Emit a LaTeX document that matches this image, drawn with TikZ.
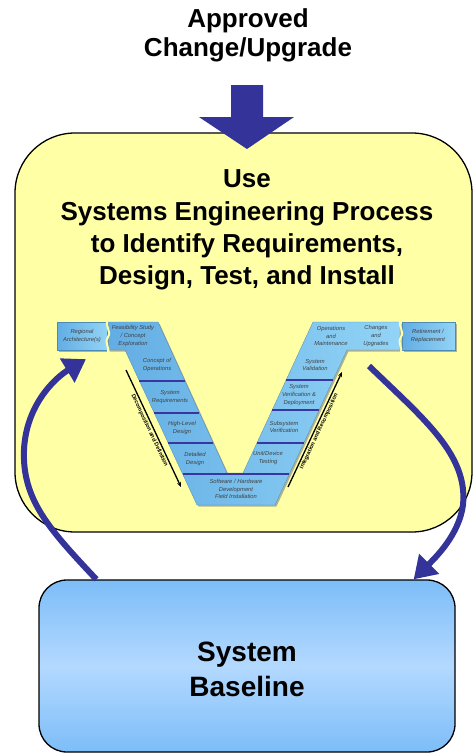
\documentclass[tikz,border=0pt]{standalone}
\usepackage{fontspec}
\setmainfont{Liberation Sans}
\usetikzlibrary{arrows.meta,shadows}
\definecolor{loopblue}{HTML}{333399}
\definecolor{paleyellow}{HTML}{FFFFA6}
\definecolor{baseblue}{HTML}{7DBDF8}
\definecolor{baselight}{HTML}{B3D9FF}
\definecolor{vdark}{HTML}{62ADE4}
\definecolor{vlight}{HTML}{92D4F6}
\definecolor{vline}{HTML}{3A35A0}
\tikzset{
  bigtext/.style={font=\fontsize{26}{32.3}\selectfont\bfseries, align=center, inner sep=0pt},
  vlabel/.style={font=\fontsize{5.8}{7.6}\selectfont\itshape, align=center, text=black!75, inner sep=0pt},
  vblock/.style={left color=vdark, right color=vlight, draw=vdark!80!black, line width=.3pt,
    drop shadow={shadow xshift=1.5pt, shadow yshift=-1.5pt, opacity=.6}},
  divider/.style={draw=vline, line width=1.1pt},
  diag/.style={draw=black, line width=1.3pt, -{Stealth[length=5pt,width=4pt]}},
  diaglabel/.style={font=\fontsize{5.6}{6}\selectfont\bfseries, inner sep=1.2pt},
  loop/.style={draw=loopblue, line width=6pt, -{Triangle[length=22pt,width=27pt]}},
}
\begin{document}
\begin{tikzpicture}[x=1pt,y=-1pt]
	\useasboundingbox (0,0) rectangle (474,753);
	% the two big boxes
	\node[draw, line width=1.3pt, rounded corners=60pt, fill=paleyellow,
		minimum width=457pt, minimum height=399pt] (process) at (243.5,332.5) {};
	\node[draw, line width=1.3pt, rounded corners=28pt, top color=baseblue, bottom color=baseblue,
		middle color=baselight, minimum width=416pt, minimum height=172pt] (baseline) at (247,666) {};
	\node[bigtext, font=\fontsize{26}{29}\selectfont\bfseries] (change) at (248,35) {Approved\\Change/Upgrade};
	\node[bigtext] (use) at (247,230) {Use\\Systems Engineering Process\\to Identify Requirements,\\Design, Test, and Install};
	\node[bigtext, font=\fontsize{28}{35}\selectfont\bfseries] (basetext) at (247,669.5) {System\\Baseline};
	% block arrow into the process box
	\fill[loopblue] (231,85) -- (263,85) -- (263,117) -- (294,117) -- (247,149) -- (199,117) -- (231,117) -- cycle;
	% the V
	\path[vblock] (108,322) -- (158,322) -- (227,473) -- (243,473) -- (313,322) -- (400,322) -- (400,350)
		-- (347,350) -- (275,505) -- (197,505) -- (125,350) -- (108,350) -- cycle;
	\node[vblock, minimum width=50pt, minimum height=28pt] (regional) at (82,336) {};
	\node[vblock, minimum width=53pt, minimum height=28pt] (retire) at (428.5,336) {};
	% torn joins
	\draw[paleyellow, line width=2pt] (108,319) .. controls (104,326) and (112,331) .. (108,337) .. controls (104,343) and (110,348) .. (108,353);
	\draw[paleyellow, line width=2pt] (401,319) .. controls (397,326) and (405,331) .. (401,337) .. controls (397,343) and (403,348) .. (401,353);
	\foreach \y/\a/\b in {381/139.4/184.7, 413/154.3/199.3, 443/168.2/213.3, 380/286.1/333, 410/272.2/319.1, 443/256.9/303.8, 474/182.6/289.4}
		\draw[divider] (\a,\y) -- (\b,\y);
	\foreach \x/\y/\t [count=\i] in {82/336/{Regional\\Architecture(s)}, 133/336/{Feasibility Study\\/ Concept\\Exploration},
		157/365/{Concept of\\Operations}, 170/397/{System\\Requirements}, 182/428/{High-Level\\Design},
		195/459/{Detailed\\Design}, 236/489/{Software / Hardware\\Development\\Field Installation},
		268/458/{Unit/Device\\Testing}, 284/427/{Subsystem\\Verification}, 299/395/{System\\Verification \&\\Deployment},
		315/365/{System\\Validation}, 331/336/{Operations\\and\\Maintenance}, 376/336/{Changes\\and\\Upgrades},
		428/336/{Retirement /\\Replacement}}
		\node[vlabel] (vstage\i) at (\x,\y) {\t};
	% arrows beside the arms
	\coordinate (decotop) at (126,370);
	\coordinate (decobot) at (181,487);
	\coordinate (intbot) at (288,487);
	\coordinate (inttop) at (342,372);
	\draw[diag] (decotop) -- node[diaglabel, sloped, below] {Decomposition and Definition} (decobot);
	\draw[diag] (intbot) -- node[diaglabel, sloped, below] {Integration and Recomposition} (inttop);
	% feedback loops
	\coordinate (upgradeout) at (369,366);
	\draw[loop] ([xshift=58pt]baseline.north west) .. controls (50,530) and (22,500) .. (24,450)
		.. controls (26,405) and (55,378) .. ([xshift=4pt,yshift=-9pt]regional.south);
	\draw[loop] (upgradeout) .. controls (425,420) and (468,455) .. (463,505)
		.. controls (459,535) and (435,558) .. ([xshift=-42pt]baseline.north east);
\end{tikzpicture}
\end{document}
